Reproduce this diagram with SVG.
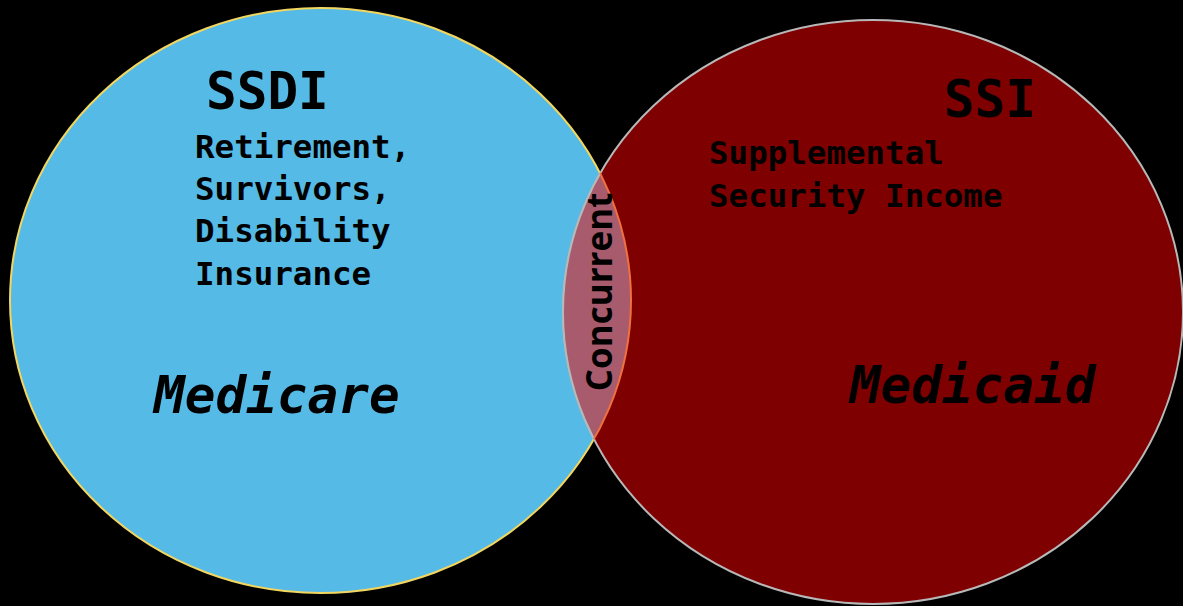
<svg xmlns="http://www.w3.org/2000/svg" width="1183" height="606" viewBox="0 0 1183 606">
<style>
.mono{font-family:"DejaVu Sans Mono","Liberation Mono",monospace;font-weight:bold;fill:#000}
.big{font-size:51px}
.small{font-size:32.5px}
.ital{font-size:51px;font-style:italic}
.conc{font-family:"Open Sans","Noto Sans","DejaVu Sans",sans-serif;font-weight:700;font-size:35px;fill:#000}
</style>
<defs>
<clipPath id="clipL"><ellipse cx="320.5" cy="300.5" rx="310.5" ry="292.5"/></clipPath>
<clipPath id="clipR"><ellipse cx="873" cy="312" rx="310" ry="292"/></clipPath>
</defs>
<rect width="1183" height="606" fill="#000"/>
<g id="ssdi">
<ellipse cx="320.5" cy="300.5" rx="310.5" ry="292.5" fill="#55BAE5" stroke="#F2D660" stroke-width="2"/>
<text class="mono big" x="206" y="109">SSDI</text>
<text class="mono small" x="195" y="158">Retirement,</text>
<text class="mono small" x="195" y="200">Survivors,</text>
<text class="mono small" x="195" y="242">Disability</text>
<text class="mono small" x="195" y="285">Insurance</text>
<text class="mono ital" x="154" y="413">Medicare</text>
</g>
<g id="ssi">
<ellipse cx="873" cy="312" rx="310" ry="292" fill="#7F0000" stroke="#B8B8B8" stroke-width="2"/>
<text class="mono big" x="944" y="117">SSI</text>
<text class="mono small" x="709" y="164">Supplemental</text>
<text class="mono small" x="709" y="207">Security Income</text>
<text class="mono ital" x="850" y="403">Medicaid</text>
</g>
<g id="concurrent">
<ellipse cx="873" cy="312" rx="310" ry="292" fill="#A75B6C" clip-path="url(#clipL)"/>
<ellipse cx="873" cy="312" rx="310" ry="292" fill="none" stroke="#B8B8B8" stroke-width="2" clip-path="url(#clipL)"/>
<ellipse cx="320.5" cy="300.5" rx="310.5" ry="292.5" fill="none" stroke="#F07040" stroke-width="2" clip-path="url(#clipR)"/>
<text class="conc" transform="translate(612,292) rotate(-90)" text-anchor="middle">Concurrent</text>
</g>
<g id="connectors"/>
</svg>
